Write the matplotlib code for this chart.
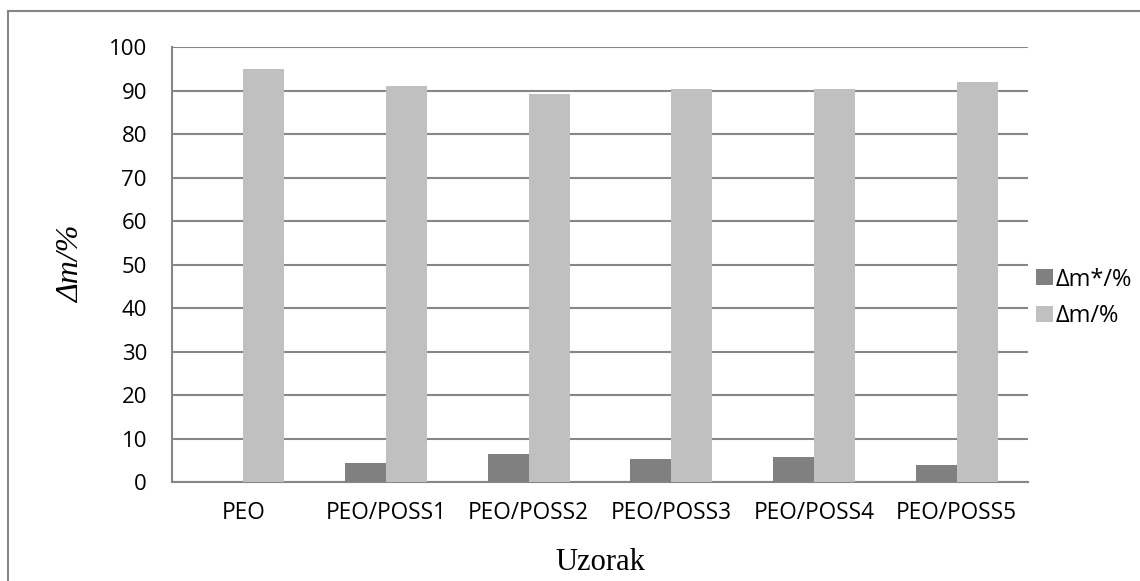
import matplotlib
matplotlib.use("Agg")
import matplotlib.pyplot as plt
import numpy as np
from matplotlib.patches import Rectangle

categories = ["PEO", "PEO/POSS1", "PEO/POSS2", "PEO/POSS3", "PEO/POSS4", "PEO/POSS5"]
dm_star = [0.0, 4.45, 6.35, 5.2, 5.65, 3.85]
dm = [95.1, 91.2, 89.3, 90.4, 90.4, 92.1]
series_names = ["Δm*/%", "Δm/%"]
yticks = list(range(0, 101, 10))

W, H = 1140, 581
fig = plt.figure(figsize=(W / 100, H / 100), dpi=100)
ax = fig.add_axes([172 / W, 1 - 482 / H, (1028 - 172) / W, (482 - 47.4) / H])

tick_font = "Open Sans"
x = np.arange(len(categories))
bw = 0.2875
ax.bar(x - bw / 2, dm_star, width=bw, color="#808080", label=series_names[0], zorder=3)
ax.bar(x + bw / 2, dm, width=bw, color="#C0C0C0", label=series_names[1], zorder=3)

ax.set_xlim(-0.5, len(categories) - 0.5)
ax.set_ylim(0, 100)
ax.set_yticks(yticks)
ax.set_yticklabels([str(t) for t in yticks], fontfamily=tick_font, fontsize=16)
ax.set_xticks(x)
ax.set_xticklabels(categories, fontfamily=tick_font, fontsize=16.3)
ax.tick_params(axis="y", length=0, pad=18)
ax.tick_params(axis="x", length=0, pad=14)
ax.yaxis.grid(True, color="#868686", linewidth=1.5, zorder=0)
ax.set_axisbelow(True)
for s in ["top", "right"]:
    ax.spines[s].set_visible(False)
for s in ["left", "bottom"]:
    ax.spines[s].set_color("#868686")
    ax.spines[s].set_linewidth(1.5)

ax.set_ylabel("Δm/%", fontfamily="Liberation Serif", fontstyle="italic", fontsize=23, labelpad=16)
ax.set_xlabel("Uzorak", fontfamily="Liberation Serif", fontsize=22, labelpad=16)

leg = fig.legend(loc="center left", bbox_to_anchor=(1027 / W, 1 - 298 / H), frameon=False,
                 prop={"family": tick_font, "size": 17}, handlelength=0.68, handleheight=0.68,
                 handletextpad=0.12, labelspacing=0.55, borderaxespad=0)

# outer chart border (left and top visible)
fig.add_artist(Rectangle((8 / W, -0.05), 1.2, 1 - 11 / H + 0.05, transform=fig.transFigure,
                         fill=False, edgecolor="#868686", linewidth=1.5))

fig.savefig("out.png", dpi=100)
